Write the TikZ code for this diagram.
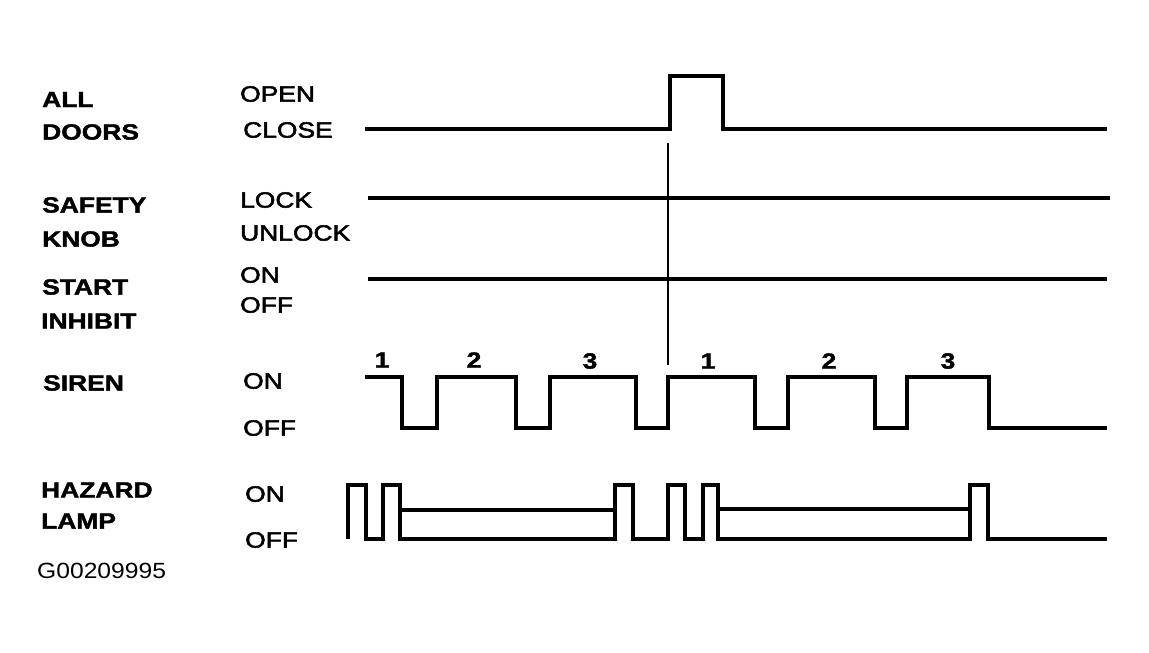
\documentclass[tikz,border=0pt]{standalone}
\usepackage{graphicx}
\usepackage{fontspec}
\setmainfont{Liberation Sans}
\newfontfamily\medfont{Liberation Sans}[FakeBold=2.2]
\newfontfamily\heavyfont{Liberation Sans Bold}[FakeBold=1.6]
\newcommand\widetxt[1]{\scalebox{1.2}[1]{#1}}
\begin{document}
\begin{tikzpicture}[x=1pt,y=-1pt,
  sig/.style={line width=3.2pt, line join=miter, line cap=butt},
  marker/.style={line width=2pt},
  signame/.style={anchor=west, inner sep=0pt, font=\fontsize{22}{25}\selectfont\heavyfont},
  state/.style={anchor=west, inner sep=0pt, font=\fontsize{22}{25}\selectfont\medfont},
  num/.style={inner sep=0pt, font=\fontsize{22}{25}\selectfont\heavyfont},
  code/.style={anchor=west, inner sep=0pt, font=\fontsize{22}{25}\selectfont}]
\useasboundingbox (0,0) rectangle (1149,653);
\fill[white] (0,0) rectangle (1149,653);

% signal names
\node[signame] (all) at (42,99.5) {\widetxt{ALL}};
\node[signame] (doors) at (42,132) {\widetxt{DOORS}};
\node[signame] (safety) at (42,205) {\widetxt{SAFETY}};
\node[signame] (knob) at (42,239) {\widetxt{KNOB}};
\node[signame] (start) at (42,287) {\widetxt{START}};
\node[signame] (inhibit) at (41,321) {\widetxt{INHIBIT}};
\node[signame] (siren) at (43,383) {\widetxt{SIREN}};
\node[signame] (hazard) at (41,490) {\widetxt{HAZARD}};
\node[signame] (lamp) at (41,521) {\widetxt{LAMP}};
\node[code] (gcode) at (37,571) {\scalebox{1.12}[1]{G00209995}};

% state names
\node[state] (open) at (240,94) {\widetxt{OPEN}};
\node[state] (close) at (243,130) {\widetxt{CLOSE}};
\node[state] (lock) at (240,200) {\widetxt{LOCK}};
\node[state] (unlock) at (240,233) {\widetxt{UNLOCK}};
\node[state] (sion) at (240,275) {\widetxt{ON}};
\node[state] (sioff) at (240,305) {\widetxt{OFF}};
\node[state] (son) at (243,381) {\widetxt{ON}};
\node[state] (soff) at (243,428) {\widetxt{OFF}};
\node[state] (hon) at (245,494) {\widetxt{ON}};
\node[state] (hoff) at (245,540) {\widetxt{OFF}};

% numbers above siren
\node[num] (n1a) at (382,360) {\widetxt{1}};
\node[num] (n2a) at (474,360) {\widetxt{2}};
\node[num] (n3a) at (590,361) {\widetxt{3}};
\node[num] (n1b) at (708,361) {\widetxt{1}};
\node[num] (n2b) at (829,361) {\widetxt{2}};
\node[num] (n3b) at (948,361) {\widetxt{3}};

% all doors
\draw[sig] (365,129) -- (670,129) -- (670,76) -- (723,76) -- (723,129) -- (1107,129);
% marker line
\draw[marker] (668,143) -- (668,365);
% safety knob
\draw[sig] (368,198) -- (1110,198);
% start inhibit
\draw[sig] (368,279) -- (1107,279);
% siren
\draw[sig] (365,377) -- (402,377) -- (402,428) -- (437,428) -- (437,377) -- (516,377)
  -- (516,428) -- (550,428) -- (550,377) -- (636,377) -- (636,428) -- (668,428)
  -- (668,377) -- (755,377) -- (755,428) -- (788,428) -- (788,377) -- (875,377)
  -- (875,428) -- (907,428) -- (907,377) -- (989,377) -- (989,428) -- (1107,428);
% hazard lamp
\draw[sig] (348,539) -- (348,485) -- (366,485) -- (366,539) -- (383,539) -- (383,485)
  -- (400,485) -- (400,539) -- (615,539) -- (615,485) -- (633,485) -- (633,539)
  -- (668,539) -- (668,485) -- (685,485) -- (685,539) -- (703,539) -- (703,485)
  -- (718,485) -- (718,539) -- (970,539) -- (970,485) -- (988,485) -- (988,539)
  -- (1107,539);
\draw[sig] (400,510) -- (615,510);
\draw[sig] (718,509) -- (970,509);
\end{tikzpicture}
\end{document}
